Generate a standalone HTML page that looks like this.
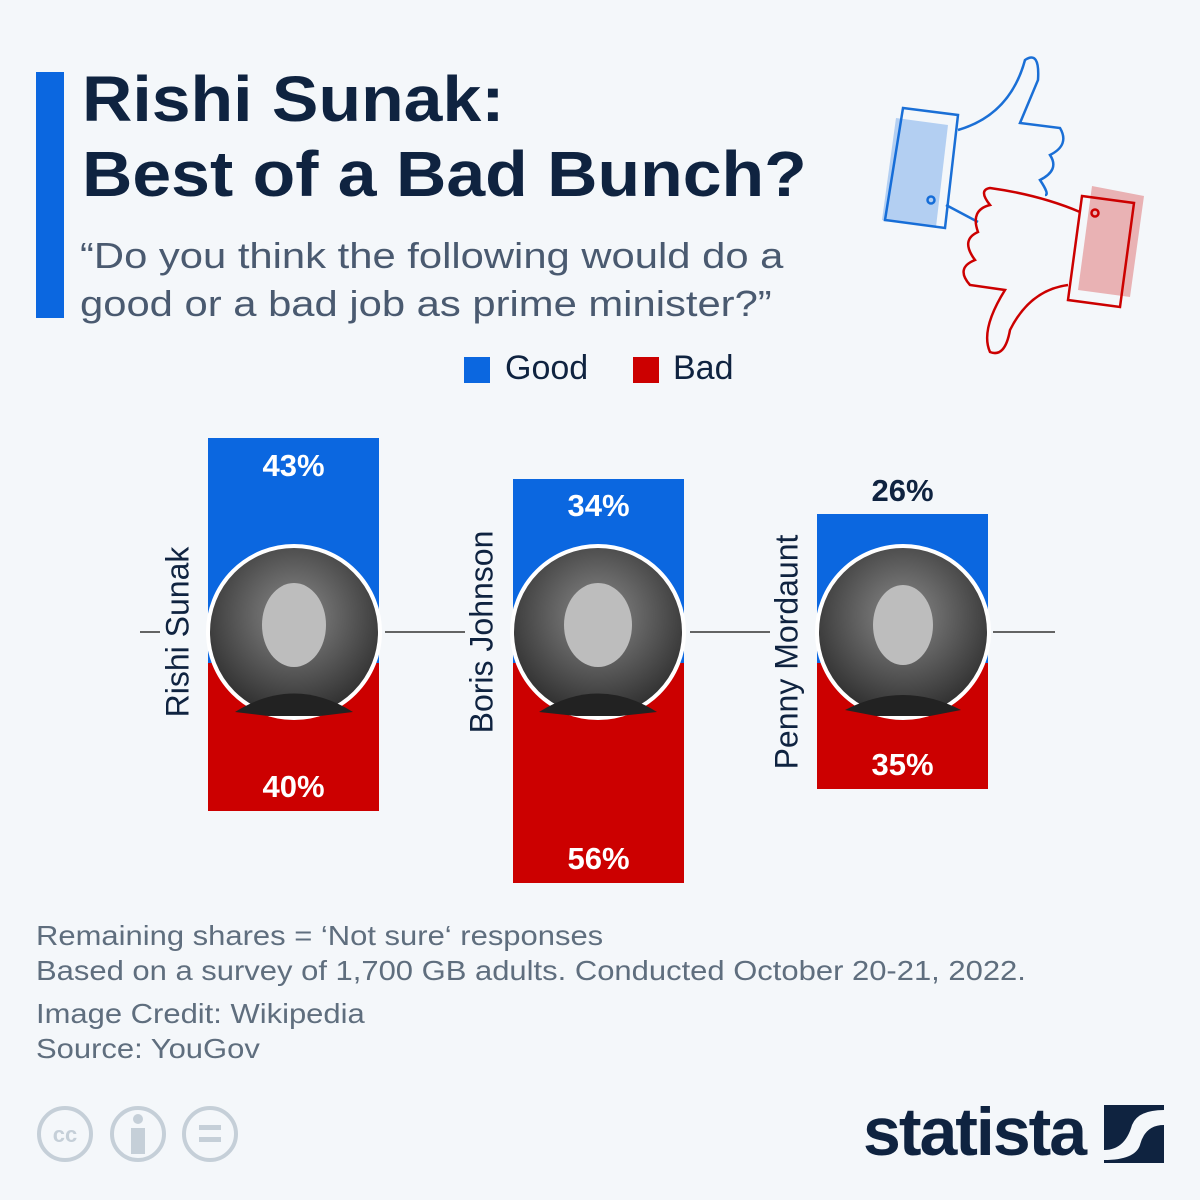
<!DOCTYPE html>
<html><head><meta charset="utf-8"><style>
body{margin:0;width:1200px;height:1200px;background:#f4f7fa;font-family:"Liberation Sans",sans-serif;position:relative;overflow:hidden}
.a{position:absolute;white-space:nowrap}
.t{left:82px;top:62px;font-size:64px;font-weight:bold;color:#0f2340;line-height:75px;transform:scaleX(1.09);transform-origin:left}
.s{left:80px;top:232px;font-size:36px;color:#4a5a70;line-height:48px;transform:scaleX(1.16);transform-origin:left}
.f{left:36px;font-size:28px;color:#5f6e7e;transform:scaleX(1.106);transform-origin:left}
.lbl{font-size:31px;font-weight:bold;text-align:center;width:171px}
.nm{font-size:32px;color:#0f2340;white-space:nowrap;transform:translate(-50%,-50%) rotate(-90deg)}
</style></head><body>
<div class="a" style="left:36px;top:72px;width:28px;height:246px;background:#0b67e0"></div>
<div class="a t">Rishi Sunak:<br>Best of a Bad Bunch?</div>
<div class="a s">“Do you think the following would do a<br>good or a bad job as prime minister?”</div>
<div class="a" style="left:464px;top:357px;width:26px;height:26px;background:#0b67e0"></div>
<div class="a" style="left:505px;top:349px;font-size:34px;color:#0f2340">Good</div>
<div class="a" style="left:633px;top:357px;width:26px;height:26px;background:#cc0000"></div>
<div class="a" style="left:673px;top:349px;font-size:34px;color:#0f2340">Bad</div>

<svg class="a" style="left:0;top:0" width="1200" height="1200">
<defs><radialGradient id="g" cx="50%" cy="40%" r="60%"><stop offset="0" stop-color="#8a8a8a"/><stop offset="1" stop-color="#2e2e2e"/></radialGradient></defs>
<g stroke="#333" stroke-width="1.5">
<line x1="140" y1="632" x2="160" y2="632"/><line x1="385" y1="632" x2="465" y2="632"/>
<line x1="690" y1="632" x2="770" y2="632"/><line x1="993" y1="632" x2="1055" y2="632"/></g>
<rect x="208" y="438" width="171" height="225" fill="#0b67e0"/><rect x="208" y="663" width="171" height="148" fill="#cc0000"/>
<rect x="513" y="479" width="171" height="184" fill="#0b67e0"/><rect x="513" y="663" width="171" height="220" fill="#cc0000"/>
<rect x="817" y="514" width="171" height="149" fill="#0b67e0"/><rect x="817" y="663" width="171" height="126" fill="#cc0000"/>
<g stroke="#fff" stroke-width="4">
<circle cx="294" cy="632" r="86" fill="url(#g)"/><circle cx="598" cy="632" r="86" fill="url(#g)"/><circle cx="903" cy="632" r="86" fill="url(#g)"/></g>
<g fill="#bdbdbd"><ellipse cx="294" cy="625" rx="32" ry="42"/><ellipse cx="598" cy="625" rx="34" ry="42"/><ellipse cx="903" cy="625" rx="30" ry="40"/></g>
<g fill="#222"><path d="M235 712 Q294 675 353 712 L320 716 L268 716Z"/><path d="M539 712 Q598 675 657 712 L620 716 L576 716Z"/><path d="M845 710 Q903 680 961 710 L930 716 L876 716Z"/></g>
<g fill="none" stroke-width="2.5">
<path d="M903 108 L958 115 L945 228 L885 220Z" stroke="#1a6fd6"/>
<path d="M958 130 Q1010 115 1025 60 Q1040 50 1038 80 L1020 123 L1060 128 Q1070 145 1050 155 Q1060 170 1040 180 Q1050 195 1045 195" stroke="#1a6fd6"/>
<path d="M946 205 L978 222" stroke="#1a6fd6"/>
<circle cx="931" cy="200" r="3.5" stroke="#1a6fd6"/>
<path d="M1082 196 L1134 203 L1120 307 L1068 300Z" stroke="#cc0000"/>
<path d="M1080 212 Q1040 195 990 188 Q978 190 990 205 Q970 210 978 232 Q960 240 975 260 Q955 268 970 285 L1005 290 Q980 330 990 352 Q1005 358 1010 330 Q1030 290 1068 285" stroke="#cc0000"/>
<circle cx="1095" cy="213" r="3.5" stroke="#cc0000"/></g>
<path d="M896 118 L948 125 L936 227 L882 220Z" fill="#0b67e0" opacity=".28"/>
<path d="M1092 186 L1144 196 L1130 297 L1078 290Z" fill="#cc0000" opacity=".28"/>
<g fill="none" stroke="#c5cfd8" stroke-width="4"><circle cx="65" cy="1134" r="26"/><circle cx="138" cy="1134" r="26"/><circle cx="210" cy="1134" r="26"/></g>
<text x="65" y="1142" font-size="22" font-weight="bold" fill="#c5cfd8" text-anchor="middle" font-family="Liberation Sans">cc</text>
<rect x="131" y="1128" width="14" height="26" fill="#c5cfd8"/><circle cx="138" cy="1119" r="5" fill="#c5cfd8"/>
<rect x="199" y="1125" width="22" height="5" fill="#c5cfd8"/><rect x="199" y="1137" width="22" height="5" fill="#c5cfd8"/>
<rect x="1104" y="1105" width="60" height="58" fill="#0f2340"/>
<path d="M1104 1150 Q1125 1150 1132 1125 Q1138 1110 1164 1110 L1164 1125 Q1145 1125 1140 1145 Q1135 1160 1104 1160Z" fill="#f4f7fa"/>
</svg>
<div class="a" style="left:863px;top:1093px;font-size:68px;font-weight:bold;color:#0f2340;letter-spacing:-2px">statista</div>

<div class="a lbl" style="left:208px;top:448px;color:#fff">43%</div>
<div class="a lbl" style="left:208px;top:769px;color:#fff">40%</div>
<div class="a lbl" style="left:513px;top:488px;color:#fff">34%</div>
<div class="a lbl" style="left:513px;top:841px;color:#fff">56%</div>
<div class="a lbl" style="left:817px;top:473px;color:#0f2340">26%</div>
<div class="a lbl" style="left:817px;top:747px;color:#fff">35%</div>
<div class="a nm" style="left:178px;top:632px">Rishi Sunak</div>
<div class="a nm" style="left:482px;top:632px">Boris Johnson</div>
<div class="a nm" style="left:787px;top:652px">Penny Mordaunt</div>

<div class="a f" style="top:920px">Remaining shares = ‘Not sure‘ responses</div>
<div class="a f" style="top:955px">Based on a survey of 1,700 GB adults. Conducted October 20-21, 2022.</div>
<div class="a f" style="top:998px">Image Credit: Wikipedia</div>
<div class="a f" style="top:1033px">Source: YouGov</div>
</body></html>
